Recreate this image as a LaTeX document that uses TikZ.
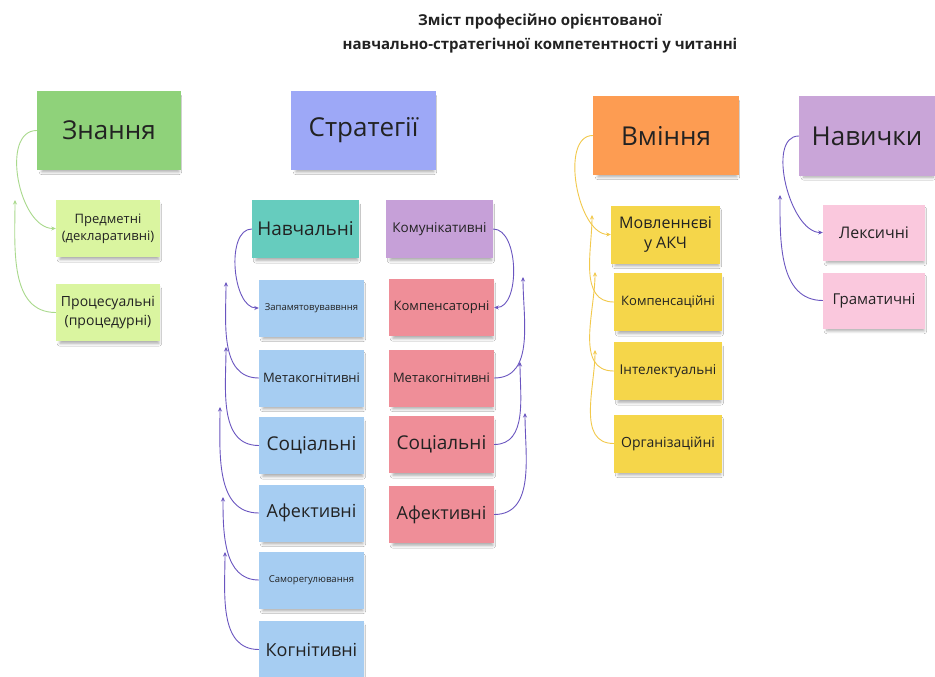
\documentclass[tikz,border=0pt]{standalone}
\usepackage{fontspec}
\setmainfont{Open Sans}
\usetikzlibrary{arrows.meta,shadows.blur}
\definecolor{cGreen}{HTML}{8FD27A}
\definecolor{cLime}{HTML}{DAF5A0}
\definecolor{cStrat}{HTML}{9DA8F7}
\definecolor{cTeal}{HTML}{66CCBE}
\definecolor{cKom}{HTML}{C6A0D8}
\definecolor{cBlue}{HTML}{A6CDF2}
\definecolor{cRed}{HTML}{EF8E98}
\definecolor{cOrange}{HTML}{FD9C52}
\definecolor{cYellow}{HTML}{F5D64A}
\definecolor{cNav}{HTML}{C9A5D8}
\definecolor{cPink}{HTML}{FAC8DD}
\definecolor{lPurple}{HTML}{6A55C0}
\definecolor{lGreen}{HTML}{A9D98C}
\definecolor{lYellow}{HTML}{F2C94C}
\definecolor{txt}{HTML}{222222}
\tikzset{
  box/.style={inner sep=0pt, text=txt, align=center,
    blur shadow={shadow xshift=1.5pt, shadow yshift=-4pt, shadow scale=0.95, shadow opacity=35, shadow blur radius=3pt, shadow blur steps=8}},
  fs/.style={font=\fontsize{#1}{\dimexpr #1pt*13/10\relax}\selectfont},
  conn/.style={line width=0.9pt, -{Stealth[length=4.5pt,width=4pt]}},
}
\begin{document}
\begin{tikzpicture}[x=1pt,y=-1pt]
\useasboundingbox[fill=white] (0,0) rectangle (935,677);
% title
\node[text=txt, font=\bfseries\fontsize{15}{24}\selectfont, align=center] (title) at (540,33)
  {Зміст професійно орієнтованої\\навчально-стратегічної компетентності у читанні};

% Знання
\node[box, fill=cGreen, minimum width=144, minimum height=79, fs=26] (zn) at (109,130.5) {Знання};
\node[box, fill=cLime, minimum width=104, minimum height=57, fs=13] (pred) at (108,228.5) {Предметні\\(декларативні)};
\node[box, fill=cLime, minimum width=104, minimum height=57, fs=14] (proc) at (108,312.5) {Процесуальні\\(процедурні)};

% Стратегії
\node[box, fill=cStrat, minimum width=145, minimum height=79, fs=26] (str) at (363.5,130.5) {Стратегії};
\node[box, fill=cTeal, minimum width=107, minimum height=58, fs=19] (nav) at (305.5,229) {Навчальні};
\node[box, fill=cKom, minimum width=107, minimum height=58, fs=13.5] (kom) at (439.5,229) {Комунікативні};

\node[box, fill=cBlue, minimum width=105, minimum height=57, fs=9.5] (b1) at (311.5,308) {Запамятовуваввння};
\node[box, fill=cBlue, minimum width=105, minimum height=57, fs=13] (b2) at (311.5,378) {Метакогнітивні};
\node[box, fill=cBlue, minimum width=105, minimum height=57, fs=19] (b3) at (311.5,445.5) {Соціальні};
\node[box, fill=cBlue, minimum width=105, minimum height=57, fs=18] (b4) at (311.5,513) {Афективні};
\node[box, fill=cBlue, minimum width=105, minimum height=57, fs=9.5] (b5) at (311.5,580) {Саморегулювання};
\node[box, fill=cBlue, minimum width=105, minimum height=57, fs=18] (b6) at (311.5,649.5) {Когнітивні};

\node[box, fill=cRed, minimum width=105, minimum height=57, fs=13] (r1) at (441.5,307.5) {Компенсаторні};
\node[box, fill=cRed, minimum width=105, minimum height=57, fs=13] (r2) at (441.5,378) {Метакогнітивні};
\node[box, fill=cRed, minimum width=105, minimum height=57, fs=19] (r3) at (441.5,444.5) {Соціальні};
\node[box, fill=cRed, minimum width=105, minimum height=57, fs=18] (r4) at (441.5,514.5) {Афективні};

% Вміння
\node[box, fill=cOrange, minimum width=146, minimum height=79, fs=26] (vm) at (666,135.5) {Вміння};
\node[box, fill=cYellow, minimum width=109, minimum height=58, fs=16] (y1) at (665.5,234.5) {Мовленнєві\\у АКЧ};
\node[box, fill=cYellow, minimum width=108, minimum height=58, fs=13] (y2) at (668,302) {Компенсаційні};
\node[box, fill=cYellow, minimum width=108, minimum height=58, fs=13.5] (y3) at (668,371) {Інтелектуальні};
\node[box, fill=cYellow, minimum width=108, minimum height=58, fs=14] (y4) at (668,443.5) {Організаційні};

% Навички
\node[box, fill=cNav, minimum width=136, minimum height=79, fs=26] (nv) at (867,136) {Навички};
\node[box, fill=cPink, minimum width=102, minimum height=56, fs=16] (lx) at (874,232.5) {Лексичні};
\node[box, fill=cPink, minimum width=102, minimum height=56, fs=15] (gr) at (874,300.5) {Граматичні};

% free ends
\coordinate (e1) at (15,200);
\coordinate (eb1) at (226,282);
\coordinate (eb2) at (226,347);
\coordinate (eb3) at (220,407);
\coordinate (eb4) at (223,497);
\coordinate (eb5) at (225,552);
\coordinate (er1) at (523,277);
\coordinate (er2) at (520,362);
\coordinate (er3) at (525,413);
\coordinate (ey1) at (592,215);
\coordinate (ey2) at (595,272);
\coordinate (ey3) at (595,350);
\coordinate (en1) at (780,195);

% connectors
\draw[conn, lGreen] (zn.west) to[out=180,in=180,looseness=0.95] (pred.west);
\draw[conn, lGreen] (proc.west) to[out=180,in=-90,looseness=1] (e1);

\draw[conn, lPurple] (nav.west) to[out=180,in=180,looseness=0.85] (b1.west);
\draw[conn, lPurple] (b2.west) to[out=180,in=-90,looseness=1] (eb1);
\draw[conn, lPurple] (b3.west) to[out=180,in=-90,looseness=1] (eb2);
\draw[conn, lPurple] (b4.west) to[out=180,in=-90,looseness=1] (eb3);
\draw[conn, lPurple] (b5.west) to[out=180,in=-90,looseness=1] (eb4);
\draw[conn, lPurple] (b6.west) to[out=180,in=-90,looseness=1] (eb5);

\draw[conn, lPurple] (kom.east) to[out=0,in=0,looseness=0.85] (r1.east);
\draw[conn, lPurple] (r2.east) to[out=0,in=-90,looseness=1] (er1);
\draw[conn, lPurple] (r3.east) to[out=0,in=-90,looseness=1] (er2);
\draw[conn, lPurple] (r4.east) to[out=0,in=-90,looseness=1] (er3);

\draw[conn, lYellow] (vm.west) to[out=180,in=180,looseness=0.85] (y1.west);
\draw[conn, lYellow] (y2.west) to[out=180,in=-90,looseness=1] (ey1);
\draw[conn, lYellow] (y3.west) to[out=180,in=-90,looseness=1] (ey2);
\draw[conn, lYellow] (y4.west) to[out=180,in=-90,looseness=1] (ey3);

\draw[conn, lPurple] (nv.west) to[out=180,in=180,looseness=0.85] (lx.west);
\draw[conn, lPurple] (gr.west) to[out=180,in=-90,looseness=1] (en1);
\end{tikzpicture}
\end{document}
